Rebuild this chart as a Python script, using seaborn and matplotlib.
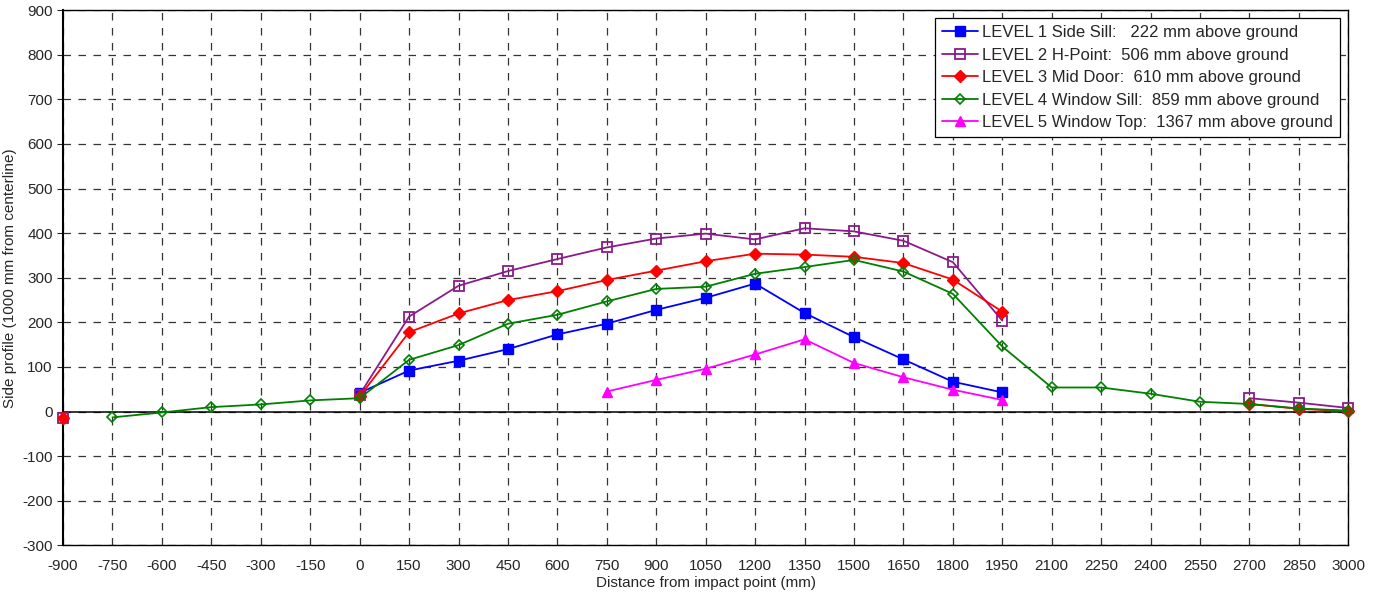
import matplotlib
matplotlib.use("Agg")
import matplotlib.pyplot as plt
import seaborn as sns
import numpy as np
import pandas as pd

# distance from impact point (mm)
x_mm = [-900, -750, -600, -450, -300, -150, 0, 150, 300, 450, 600, 750, 900,
        1050, 1200, 1350, 1500, 1650, 1800, 1950, 2100, 2250, 2400, 2550,
        2700, 2850, 3000]
nan = np.nan

level1 = [nan, nan, nan, nan, nan, nan, 42, 92, 114, 140, 173, 197, 228,
          255, 287, 221, 167, 117, 67, 43, nan, nan, nan, nan, nan, nan, nan]
level2 = [-15, nan, nan, nan, nan, nan, 38, 213, 282, 315, 342, 368, 388,
          399, 386, 411, 404, 383, 335, 204, nan, nan, nan, nan, 30, 20, 8]
level3 = [-15, nan, nan, nan, nan, nan, 34, 178, 220, 250, 270, 295, 316,
          337, 354, 352, 347, 333, 296, 224, nan, nan, nan, nan, 17, 6, 1]
level4 = [nan, -13, -2, 10, 16, 25, 30, 116, 149, 197, 217, 247, 275,
          280, 309, 324, 340, 314, 264, 146, 54, 54, 40, 22, 17, 7, 2]
level5 = [nan, nan, nan, nan, nan, nan, nan, nan, nan, nan, nan, 45, 71,
          96, 128, 162, 109, 77, 49, 26, nan, nan, nan, nan, nan, nan, nan]

labels = ["LEVEL 1 Side Sill:   222 mm above ground",
          "LEVEL 2 H-Point:  506 mm above ground",
          "LEVEL 3 Mid Door:  610 mm above ground",
          "LEVEL 4 Window Sill:  859 mm above ground",
          "LEVEL 5 Window Top:  1367 mm above ground"]

styles = [
    dict(color="#0000FF", marker="s", markersize=7, mfc="#0000FF", mec="#0000FF"),
    dict(color="#8B1A8B", marker="s", markersize=7, mfc="none", mec="#8B1A8B", mew=1.3),
    dict(color="#FF0000", marker="D", markersize=6, mfc="#FF0000", mec="#FF0000"),
    dict(color="#008000", marker="D", markersize=5.5, mfc="none", mec="#008000", mew=1.2),
    dict(color="#FF00FF", marker="^", markersize=7.5, mfc="#FF00FF", mec="#FF00FF"),
]

sns.set_style("white")
plt.rcParams["font.family"] = ["Liberation Sans", "DejaVu Sans"]
plt.rcParams["axes.unicode_minus"] = False

fig, ax = plt.subplots(figsize=(13.8, 5.98), dpi=100)
fig.subplots_adjust(left=0.0457, right=0.977, top=0.983, bottom=0.088)

for vals, lab, st in zip([level1, level2, level3, level4, level5], labels, styles):
    df = pd.DataFrame({"x": x_mm, "y": vals})
    # break the line where there is no data
    df["seg"] = df["y"].isna().cumsum()
    df = df.dropna()
    first = True
    for _, seg in df.groupby("seg"):
        sns.lineplot(data=seg, x="x", y="y", ax=ax, color=st["color"],
                     marker=st["marker"], markersize=st["markersize"],
                     markerfacecolor=st["mfc"], markeredgecolor=st["mec"],
                     markeredgewidth=st.get("mew", 1), linewidth=1.3,
                     label=lab if first else None, estimator=None, sort=False,
                     clip_on=False, zorder=3)
        first = False

ax.set_xlim(-900, 3000)
ax.set_ylim(-300, 900)
ax.set_xticks(np.arange(-900, 3001, 150))
ax.set_yticks(np.arange(-300, 901, 100))
ax.tick_params(axis="both", labelsize=11, length=4, direction="out", left=True, bottom=False)
ax.tick_params(axis="x", pad=6)
ax.grid(True, color="#333333", linestyle=(0, (6, 6)), linewidth=0.9)
ax.axhline(0, color="black", linewidth=1.1, zorder=1.5)
for s in ax.spines.values():
    s.set_color("black")
    s.set_linewidth(1)
ax.spines["left"].set_linewidth(1.5)
ax.set_xlabel("Distance from impact point (mm)", fontsize=11, labelpad=2)
ax.set_ylabel("Side profile (1000 mm from centerline)", fontsize=11, labelpad=4)

leg = ax.legend(loc="upper right", fontsize=12, frameon=True, fancybox=False,
                edgecolor="black", framealpha=1, handlelength=2.2,
                handletextpad=0.25, borderaxespad=0.5, labelspacing=0.45)
leg.get_frame().set_linewidth(0.9)

fig.savefig("out.png", dpi=100)
